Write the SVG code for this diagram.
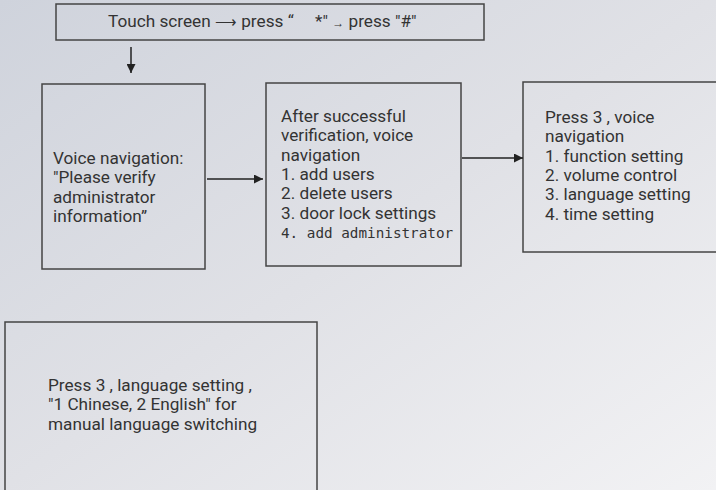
<svg xmlns="http://www.w3.org/2000/svg" width="716" height="490" viewBox="0 0 716 490">
<defs>
<linearGradient id="bg" x1="0" y1="0" x2="1" y2="1">
<stop offset="0" stop-color="#cfd3dc"/>
<stop offset="0.5" stop-color="#e0e1e6"/>
<stop offset="1" stop-color="#f2f2f4"/>
</linearGradient>
<marker id="ah" viewBox="0 0 10 10" refX="10" refY="5" markerWidth="10" markerHeight="9" markerUnits="userSpaceOnUse" orient="auto">
<path d="M0,0 L10,5 L0,10 Z" fill="#222"/>
</marker>
</defs>
<style>
.box{fill:none;stroke:#444;stroke-width:1.5}
.t{font-family:Roboto,"Liberation Sans",sans-serif;font-size:17.2px;fill:#333}
.m{font-family:"DejaVu Sans Mono","Liberation Mono",monospace;font-size:14.3px;fill:#333}
.c{stroke:#222;stroke-width:1.5;fill:none}
</style>
<rect width="716" height="490" fill="url(#bg)"/>
<g id="n0">
<rect class="box" x="56" y="4" width="428" height="36"/>
<text class="t" x="108" y="27" xml:space="preserve">Touch screen <tspan font-size="15">⟶</tspan> press “     *" <tspan font-size="12">→</tspan> press "#"</text>
</g>
<g id="n1">
<rect class="box" x="42" y="84" width="163" height="185"/>
<text class="t" x="53" y="164">Voice navigation:</text>
<text class="t" x="53" y="183">"Please verify</text>
<text class="t" x="53" y="203">administrator</text>
<text class="t" x="53" y="222">information”</text>
</g>
<g id="n2">
<rect class="box" x="266" y="83" width="195" height="183"/>
<text class="t" x="281" y="122">After successful</text>
<text class="t" x="281" y="141">verification, voice</text>
<text class="t" x="281" y="161">navigation</text>
<text class="t" x="281" y="180">1. add users</text>
<text class="t" x="281" y="199">2. delete users</text>
<text class="t" x="281" y="219">3. door lock settings</text>
<text class="m" x="281" y="238">4. add administrator</text>
</g>
<g id="n3">
<rect class="box" x="523" y="82" width="200" height="170"/>
<text class="t" x="545" y="123">Press 3 , voice</text>
<text class="t" x="545" y="142">navigation</text>
<text class="t" x="545" y="162">1. function setting</text>
<text class="t" x="545" y="181">2. volume control</text>
<text class="t" x="545" y="200">3. language setting</text>
<text class="t" x="545" y="220">4. time setting</text>
</g>
<g id="n4">
<rect class="box" x="5" y="322" width="312" height="180"/>
<text class="t" x="48" y="391">Press 3 , language setting ,</text>
<text class="t" x="48" y="410">"1 Chinese, 2 English" for</text>
<text class="t" x="48" y="430">manual language switching</text>
</g>
<g id="connectors">
<line class="c" x1="131" y1="47" x2="131" y2="73" marker-end="url(#ah)"/>
<line class="c" x1="207" y1="179" x2="263" y2="179" marker-end="url(#ah)"/>
<line class="c" x1="462" y1="158" x2="523" y2="158" marker-end="url(#ah)"/>
</g>
</svg>
